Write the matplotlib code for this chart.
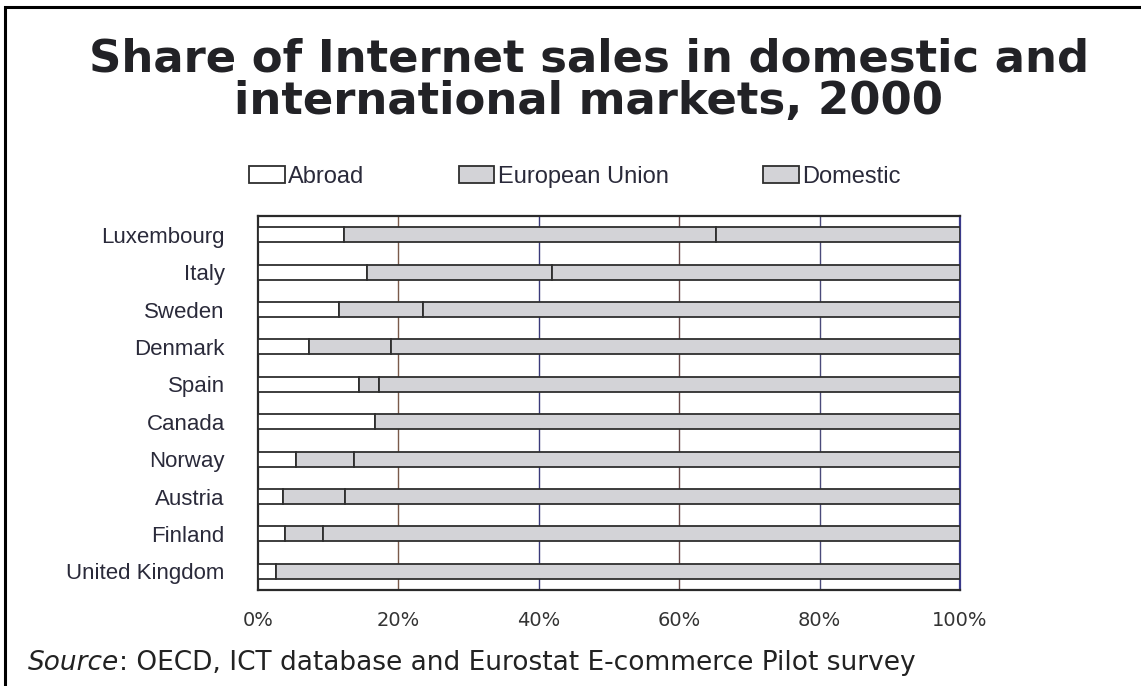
import matplotlib
matplotlib.use("Agg")
import matplotlib.pyplot as plt
from matplotlib.patches import Rectangle
import numpy as np

# Share of Internet sales by market, percent (top row first)
countries = ["Luxembourg", "Italy", "Sweden", "Denmark", "Spain",
             "Canada", "Norway", "Austria", "Finland", "United Kingdom"]
abroad = [12.2, 15.5, 11.6, 7.3, 14.4, 16.6, 5.4, 3.6, 3.9, 2.6]
european_union = [53.1, 26.4, 11.9, 11.7, 2.9, 0.0, 8.3, 8.8, 5.4, 0.0]
domestic = [100 - a - e for a, e in zip(abroad, european_union)]

series_names = ["Abroad", "European Union", "Domestic"]
x_ticks = [0, 20, 40, 60, 80, 100]
x_ticklabels = ["0%", "20%", "40%", "60%", "80%", "100%"]

BAR_GRAY = "#d3d3d7"
EDGE = "#2e2e2e"

fig = plt.figure(figsize=(11.41, 6.86), dpi=100)
fig.patch.set_facecolor("white")

ax = fig.add_axes([0.2261, 0.1399, 0.6152, 0.5452])

y = np.arange(len(countries))
left = np.zeros(len(countries))
fills = ["white", BAR_GRAY, BAR_GRAY]
for name, vals, fc in zip(series_names, [abroad, european_union, domestic], fills):
    ax.barh(y, vals, left=left, height=0.4, color=fc, edgecolor=EDGE,
            linewidth=1.3, label=name, zorder=3)
    left += np.array(vals)

ax.set_xlim(0, 100)
ax.set_ylim(len(countries) - 0.5, -0.5)
ax.set_yticks(y)
ax.set_yticklabels(countries, fontsize=16, color="#2a2a3a",
                   family="Liberation Sans")
ax.set_xticks(x_ticks)
ax.set_xticklabels(x_ticklabels, fontsize=14, color="#333333",
                   family="DejaVu Sans")
ax.tick_params(axis="both", length=0)
ax.tick_params(axis="x", pad=15)
ax.tick_params(axis="y", pad=24)

# vertical grid lines at the inner ticks
for xv, c in zip(x_ticks[1:-1], ["#7a5a4a", "#3a3a7a", "#6a4a4a", "#4a4a7a"]):
    ax.axvline(xv, color=c, linewidth=1.0, zorder=1)

for side in ["top", "bottom", "left", "right"]:
    ax.spines[side].set_color("#2a2a2a")
    ax.spines[side].set_linewidth(1.6)
ax.spines["right"].set_color("#3a3a8a")

leg = ax.legend(ncol=3, loc="lower left", bbox_to_anchor=(-0.026, 1.05),
                frameon=False, prop={"family": "Liberation Sans", "size": 17},
                handlelength=1.5, handleheight=0.7, handletextpad=0.15,
                columnspacing=4.0, borderaxespad=0)
for t in leg.get_texts():
    t.set_color("#2a2a3a")

fig.text(0.516, 0.883, "Share of Internet sales in domestic and\ninternational markets, 2000",
         ha="center", va="center", fontsize=32.4, fontweight="bold",
         color="#222226", family="DejaVu Sans", linespacing=1.0)

src = fig.text(0.0245, 0.024, "Source", fontsize=19, style="italic",
               color="#222222", family="DejaVu Sans", va="baseline")
ax.annotate(": OECD, ICT database and Eurostat E-commerce Pilot survey",
            xy=(1, 0), xycoords=src, va="bottom", ha="left",
            fontsize=19, color="#222222", family="DejaVu Sans")

# outer frame around the panel
fig.patches.append(Rectangle((5 / 1141, -0.05), 1.2, 1.05 - 7 / 686,
                             transform=fig.transFigure, fill=False,
                             edgecolor="black", linewidth=2.2))

fig.savefig("out.png", dpi=100)
